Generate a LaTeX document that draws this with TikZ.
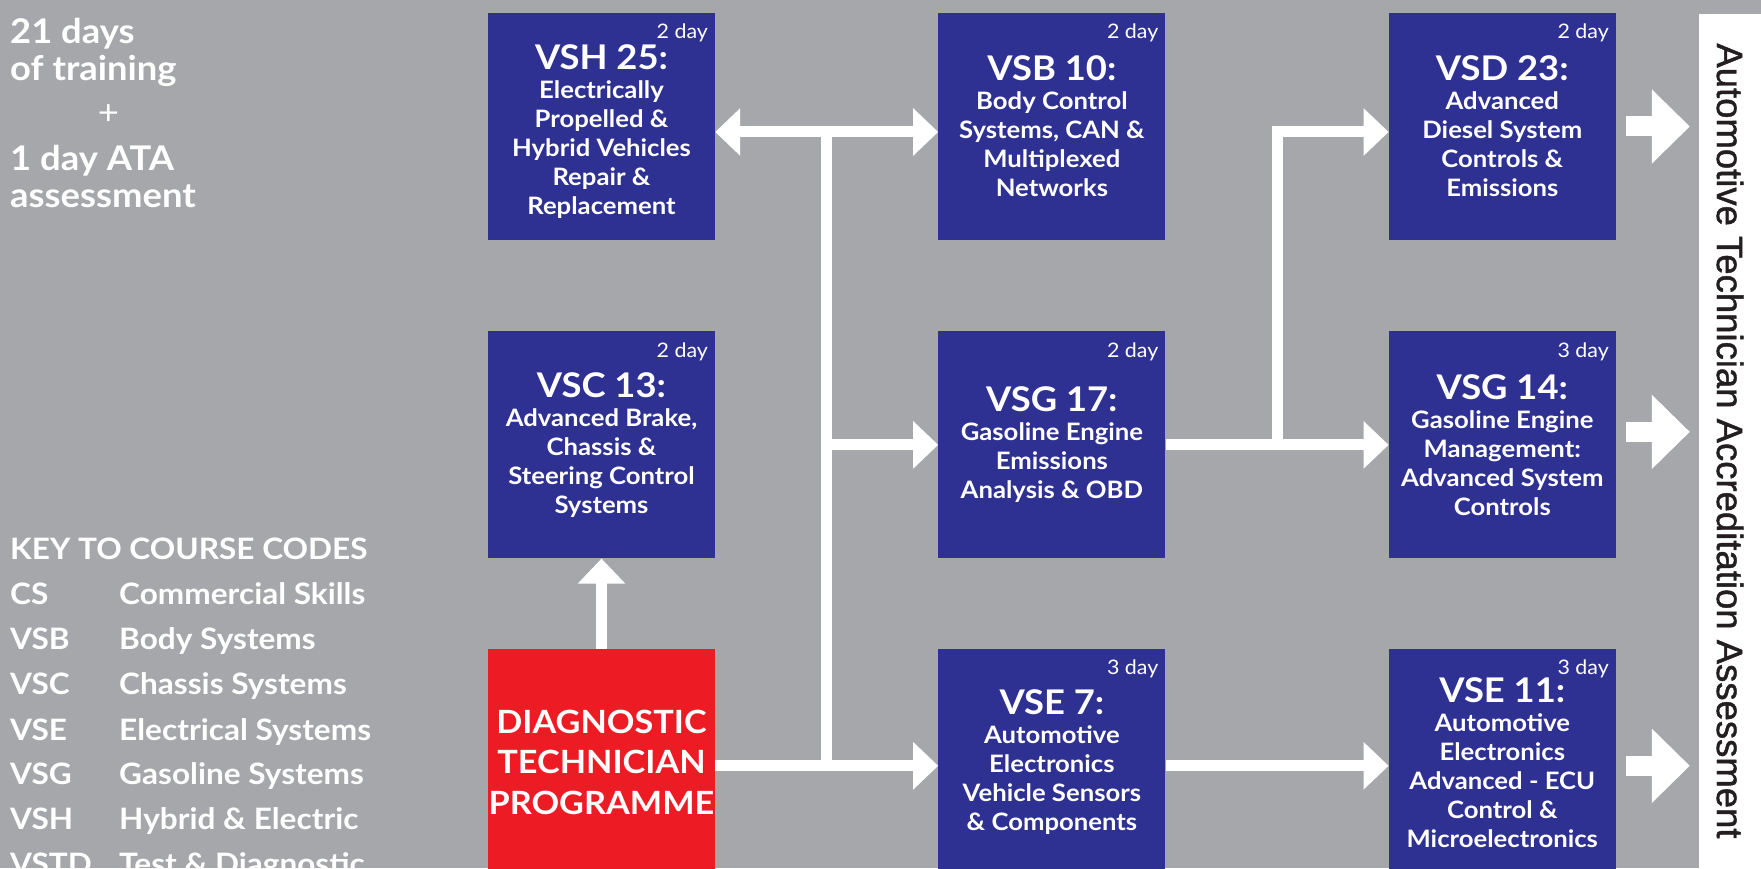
\documentclass[tikz,border=0pt]{standalone}
\usepackage{fontspec}
\setmainfont{Lato}[FakeStretch=1.07]
\newfontfamily\atafamily{Liberation Sans}[FakeBold=1.2]
\usepackage{tikz}
\usetikzlibrary{positioning,calc,arrows.meta}

\definecolor{bggray}{RGB}{166,167,171}
\definecolor{courseblue}{RGB}{46,49,146}
\definecolor{dtpred}{RGB}{237,28,36}
\definecolor{atagray}{RGB}{35,31,32}

\newcommand\titlefont{\bfseries\fontsize{34}{38}\selectfont}
\newcommand\bodyfont{\bfseries\fontsize{24}{29}\selectfont}
\newcommand\dayfont{\fontsize{20}{22}\selectfont}
\newcommand\notefont{\bfseries\fontsize{34}{37}\selectfont}
\newcommand\keyfont{\bfseries\fontsize{29.5}{45}\selectfont}
\newcommand\dtpfont{\bfseries\fontsize{32}{40.5}\selectfont}
\newcommand\atafont{\atafamily\fontsize{36.5}{40}\selectfont}

\begin{document}
\begin{tikzpicture}[x=1pt,y=1pt,
    course/.style={fill=courseblue,text=white,minimum width=227pt,minimum height=227pt,inner sep=0pt,align=center,font=\bodyfont},
    day/.style={anchor=north east,inner sep=0pt,xshift=-7pt,yshift=-11pt,text=white,font=\dayfont},
    link/.style={draw=white,line width=11pt},
    push/.style={draw=white,line width=20pt,shorten >=9pt,-{Triangle[width=72pt,length=38pt]}},
    note/.style={inner sep=0pt,text=white,align=left,font=\notefont},
    bar/.style={fill=white,rotate=-90,minimum width=854pt,minimum height=62pt,inner sep=0pt,text=atagray,font=\atafont},
    >={Triangle[width=46pt,length=25pt]},
    node distance=91pt and 223pt] %
    \useasboundingbox (0,0) rectangle (1761,868);
    \clip (0,0) rectangle (1761,868);
    \fill[bggray] (0,0) rectangle (1761,868);

    % left column texts
    \node[note,anchor=north west] (total) at (10,849.6) {21 days\\of training};
    \node[note,font=\fontsize{34}{37}\selectfont] (plus) at (108.5,753.5) {+};
    \node[note,anchor=north west] (exam) at (10,722.6) {1 day ATA\\assessment};
    \node[note,anchor=base west,font=\keyfont] (key) at (10,308) {%
      \begin{tabular}[t]{@{}p{109pt}@{}l@{}}
        \multicolumn{2}{@{}l@{}}{KEY TO COURSE CODES}\\
        CS & Commercial Skills\\
        VSB & Body Systems\\
        VSC & Chassis Systems\\
        VSE & Electrical Systems\\
        VSG & Gasoline Systems\\
        VSH & Hybrid \& Electric\\
        VSTD & Test \& Diagnostic
      \end{tabular}};

    % courses
    \node[course] (vsh) at (601.5,741.5) {{\titlefont\rule{0pt}{36pt}VSH 25:}\\Electrically\\Propelled \&\\Hybrid Vehicles\\Repair \&\\Replacement};
    \node[course,right=of vsh] (vsb) {{\titlefont VSB 10:}\\Body Control\\Systems, CAN \&\\Multiplexed\\Networks};
    \node[course,right=of vsb] (vsd) {{\titlefont VSD 23:}\\Advanced\\Diesel System\\Controls \&\\Emissions};
    \node[course,below=of vsh] (vsc) {{\titlefont VSC 13:}\\Advanced Brake,\\Chassis \&\\Steering Control\\Systems};
    \node[course,right=of vsc] (vsg17) {{\titlefont VSG 17:}\\Gasoline Engine\\Emissions\\Analysis \& OBD};
    \node[course,right=of vsg17] (vsg14) {{\titlefont VSG 14:}\\Gasoline Engine\\Management:\\Advanced System\\Controls};
    \node[course,fill=dtpred,font=\dtpfont,below=90pt of vsc] (dtp) {DIAGNOSTIC\\TECHNICIAN\\PROGRAMME};
    \node[course,right=of dtp] (vse7) {{\titlefont VSE 7:}\\Automotive\\Electronics\\Vehicle Sensors\\\& Components};
    \node[course,right=of vse7] (vse11) {{\titlefont VSE 11:}\\Automotive\\Electronics\\Advanced - ECU\\Control \&\\Microelectronics};

    \node[day] (vshd) at (vsh.north east) {2 day};
    \node[day] (vsbd) at (vsb.north east) {2 day};
    \node[day] (vsdd) at (vsd.north east) {2 day};
    \node[day] (vscd) at (vsc.north east) {2 day};
    \node[day] (vsg17d) at (vsg17.north east) {2 day};
    \node[day] (vsg14d) at (vsg14.north east) {3 day};
    \node[day] (vse7d) at (vse7.north east) {3 day};
    \node[day] (vse11d) at (vse11.north east) {3 day};

    \node[bar] (ata) at (1730,427) {Automotive Technician Accreditation Assessment};

    % routes
    \coordinate (hub) at ($(vsh.east)!0.5!(vsb.west)$);
    \coordinate (fork) at ($(vsg17.east)!0.5!(vsg14.west)$);
    \draw[link,<->] ([yshift=-5.5pt]vsh.east) -- ([yshift=-5.5pt]vsb.west);
    \draw[link] ([yshift=-5.5pt]hub) -- ([yshift=-3.5pt]hub |- dtp.east);
    \draw[link,->] (hub |- vsg17.west) -- (vsg17.west);
    \draw[link,->] ([yshift=-3.5pt]dtp.east) -- ([yshift=-3.5pt]vse7.west);
    \draw[link,->] (dtp.north) -- (vsc.south);
    \draw[link,->] (vsg17.east) -- (vsg14.west);
    \draw[link,->] (fork) |- ([yshift=-5.5pt]vsd.west);
    \draw[link,->] ([yshift=-3.5pt]vse7.east) -- ([yshift=-3.5pt]vse11.west);

    \draw[push] ([xshift=10pt]vsd.east) -- (vsd.east -| ata.south);
    \draw[push] ([xshift=10pt,yshift=13pt]vsg14.east) -- ([yshift=13pt]vsg14.east -| ata.south);
    \draw[push] ([xshift=10pt,yshift=-3.5pt]vse11.east) -- ([yshift=-3.5pt]vse11.east -| ata.south);
\end{tikzpicture}
\end{document}
